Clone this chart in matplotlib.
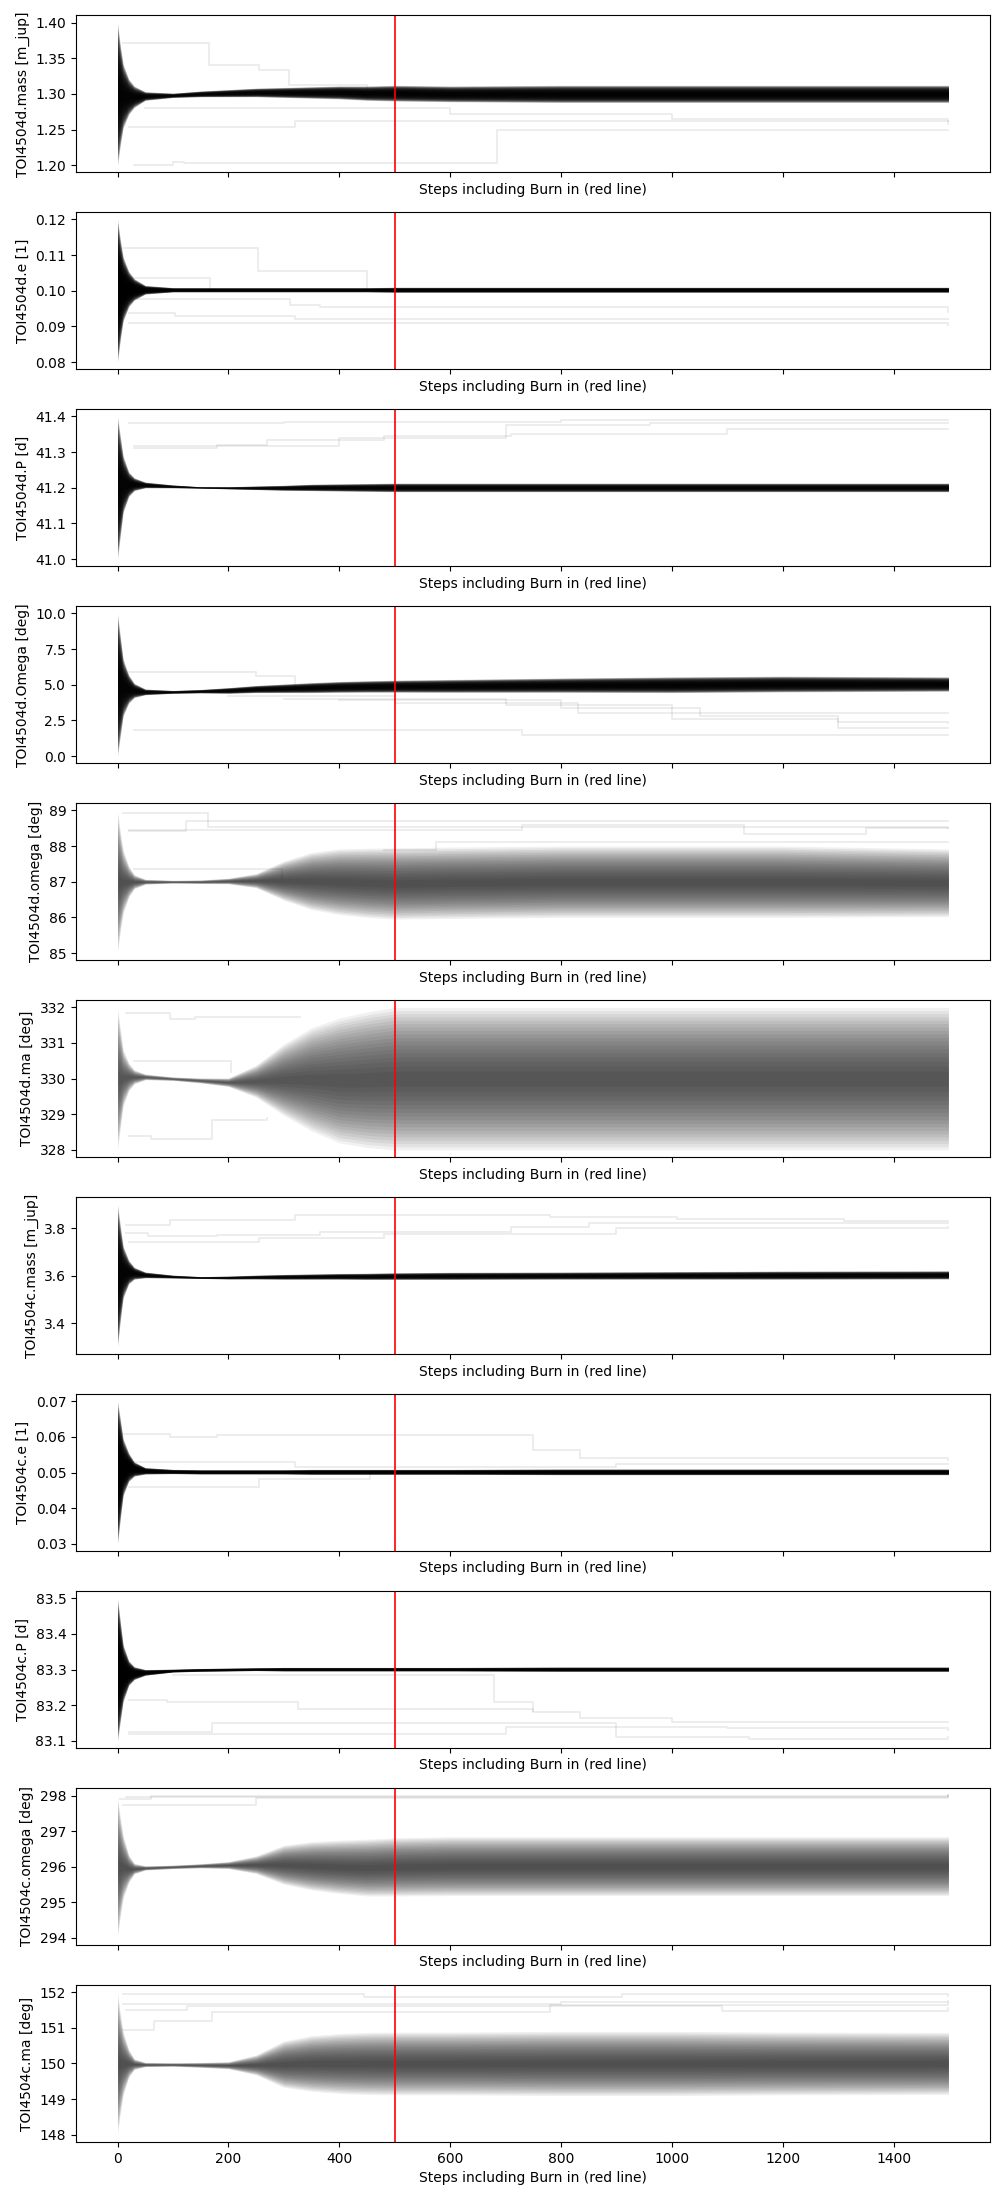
import numpy as np
import matplotlib.pyplot as plt

steps = [0, 5, 10, 20, 30, 50, 100, 150, 200, 250, 300, 350, 400, 450, 500, 600, 800, 1000, 1200, 1499]
burn_in = 500

labels = [
    "TOI4504d.mass [m_jup]", "TOI4504d.e [1]", "TOI4504d.P [d]",
    "TOI4504d.Omega [deg]", "TOI4504d.omega [deg]", "TOI4504d.ma [deg]",
    "TOI4504c.mass [m_jup]", "TOI4504c.e [1]", "TOI4504c.P [d]",
    "TOI4504c.omega [deg]", "TOI4504c.ma [deg]",
]

# centre of the walker cloud and its half width, per parameter
mass_d_center = [1.300, 1.298, 1.297, 1.296, 1.296, 1.297, 1.298, 1.300, 1.301, 1.302,
                 1.302, 1.302, 1.302, 1.301, 1.301, 1.300, 1.300, 1.300, 1.300, 1.300]
mass_d_hw = [0.100, 0.070, 0.045, 0.025, 0.015, 0.006, 0.003, 0.004, 0.005, 0.006,
             0.007, 0.008, 0.009, 0.010, 0.011, 0.011, 0.012, 0.012, 0.012, 0.012]

e_d_center = [0.100, 0.1003, 0.1005, 0.1005, 0.1004, 0.1003, 0.1003, 0.1003, 0.1003, 0.1003,
              0.1003, 0.1003, 0.1003, 0.1003, 0.1003, 0.1003, 0.1003, 0.1003, 0.1003, 0.1003]
e_d_hw = [0.020, 0.014, 0.009, 0.005, 0.003, 0.0012, 0.0006, 0.0006, 0.0006, 0.0006,
          0.0006, 0.0006, 0.0006, 0.0006, 0.0007, 0.0007, 0.0007, 0.0007, 0.0007, 0.0007]

P_d_center = [41.200, 41.205, 41.210, 41.210, 41.210, 41.208, 41.204, 41.201, 41.200, 41.200,
              41.200, 41.201, 41.201, 41.201, 41.201, 41.201, 41.201, 41.201, 41.201, 41.201]
P_d_hw = [0.20, 0.14, 0.08, 0.035, 0.018, 0.008, 0.004, 0.002, 0.003, 0.005,
          0.007, 0.009, 0.010, 0.011, 0.012, 0.012, 0.012, 0.012, 0.012, 0.012]

Omega_d_center = [5.0, 4.9, 4.8, 4.7, 4.6, 4.5, 4.5, 4.55, 4.6, 4.7,
                  4.75, 4.8, 4.85, 4.88, 4.9, 4.92, 4.97, 5.0, 5.05, 5.05]
Omega_d_hw = [5.0, 3.5, 2.0, 1.0, 0.5, 0.2, 0.1, 0.12, 0.2, 0.25,
              0.3, 0.35, 0.38, 0.4, 0.42, 0.45, 0.5, 0.55, 0.55, 0.5]

omega_d_center = [87.0, 87.0, 87.0, 87.0, 87.0, 87.0, 87.0, 87.0, 87.02, 87.03,
                  87.03, 87.02, 87.0, 86.97, 86.95, 86.97, 87.0, 87.0, 87.0, 86.97]
omega_d_hw = [2.0, 1.4, 0.9, 0.45, 0.2, 0.07, 0.04, 0.05, 0.08, 0.2,
              0.55, 0.8, 0.92, 0.97, 1.0, 1.0, 1.0, 1.0, 1.0, 0.95]

ma_d_center = [330.0, 330.0, 330.02, 330.05, 330.05, 330.05, 330.0, 329.95, 329.9, 329.93,
               329.97, 329.98, 329.95, 329.97, 330.0, 330.0, 330.0, 330.0, 330.0, 330.0]
ma_d_hw = [2.0, 1.4, 0.8, 0.4, 0.2, 0.08, 0.05, 0.07, 0.12, 0.45,
           1.0, 1.45, 1.75, 1.9, 2.0, 2.0, 2.0, 2.0, 2.0, 2.0]

mass_c_center = [3.600, 3.610, 3.615, 3.615, 3.610, 3.603, 3.596, 3.592, 3.592, 3.594,
                 3.595, 3.596, 3.597, 3.597, 3.598, 3.599, 3.600, 3.601, 3.602, 3.603]
mass_c_hw = [0.30, 0.20, 0.11, 0.05, 0.025, 0.012, 0.006, 0.004, 0.006, 0.008,
             0.010, 0.011, 0.012, 0.013, 0.014, 0.015, 0.015, 0.016, 0.017, 0.017]

e_c_center = [0.0500, 0.0510, 0.0515, 0.0515, 0.0510, 0.0505, 0.0503, 0.0502, 0.0502, 0.0502,
              0.0502, 0.0502, 0.0502, 0.0502, 0.0502, 0.0502, 0.0502, 0.0502, 0.0502, 0.0502]
e_c_hw = [0.020, 0.014, 0.008, 0.004, 0.002, 0.0009, 0.0006, 0.0006, 0.0006, 0.0006,
          0.0006, 0.0007, 0.0007, 0.0007, 0.0007, 0.0007, 0.0008, 0.0008, 0.0008, 0.0008]

P_c_center = [83.300, 83.295, 83.290, 83.290, 83.290, 83.292, 83.297, 83.299, 83.300, 83.301,
              83.301, 83.301, 83.301, 83.301, 83.301, 83.301, 83.301, 83.301, 83.301, 83.301]
P_c_hw = [0.20, 0.14, 0.08, 0.035, 0.018, 0.008, 0.004, 0.004, 0.004, 0.004,
          0.005, 0.005, 0.005, 0.005, 0.005, 0.005, 0.006, 0.006, 0.006, 0.006]

omega_c_center = [296.0, 296.0, 296.0, 295.95, 295.95, 295.97, 296.0, 296.03, 296.05, 296.06,
                  296.06, 296.03, 296.0, 295.98, 296.0, 296.02, 296.02, 296.02, 296.02, 296.02]
omega_c_hw = [2.0, 1.4, 0.9, 0.4, 0.15, 0.06, 0.05, 0.06, 0.1, 0.25,
              0.55, 0.68, 0.75, 0.8, 0.82, 0.83, 0.83, 0.83, 0.83, 0.83]

ma_c_center = [150.0, 150.0, 150.0, 150.0, 149.98, 149.97, 149.97, 149.96, 149.95, 149.96,
               149.98, 150.0, 150.0, 150.0, 150.0, 150.0, 150.0, 150.0, 150.0, 150.0]
ma_c_hw = [2.0, 1.4, 0.9, 0.4, 0.15, 0.06, 0.05, 0.07, 0.1, 0.28,
           0.65, 0.78, 0.84, 0.87, 0.88, 0.88, 0.9, 0.9, 0.88, 0.87]

# stuck walkers: (change steps, values) drawn as step lines
mass_d_walkers = [
    ([10, 165, 255, 310, 450], [1.372, 1.340, 1.333, 1.312, 1.305]),
    ([20, 320, 1499], [1.253, 1.262, 1.262]),
    ([30, 100, 120, 685, 1499], [1.200, 1.205, 1.203, 1.250, 1.250]),
    ([50, 600, 1000, 1499], [1.280, 1.272, 1.265, 1.258]),
]
e_d_walkers = [
    ([10, 253, 450], [0.112, 0.1055, 0.1005]),
    ([15, 167], [0.1035, 0.1003]),
    ([30, 312, 365, 1499], [0.0976, 0.0960, 0.0955, 0.0940]),
    ([20, 103, 320, 1499], [0.0938, 0.0930, 0.0921, 0.0920]),
    ([20, 1499], [0.0910, 0.0905]),
]
P_d_walkers = [
    ([20, 300, 800, 1499], [41.383, 41.385, 41.390, 41.390]),
    ([30, 180, 270, 480, 710, 1100, 1499], [41.312, 41.320, 41.333, 41.345, 41.352, 41.365, 41.365]),
    ([30, 400, 700, 960, 1499], [41.318, 41.340, 41.375, 41.383, 41.383]),
]
Omega_d_walkers = [
    ([20, 250, 320], [5.9, 5.6, 4.8]),
    ([200, 500, 830, 1499], [4.2, 3.7, 3.0, 3.0]),
    ([30, 730, 1499], [1.85, 1.5, 1.5]),
    ([300, 700, 1000, 1300, 1499], [4.0, 3.6, 2.6, 2.0, 2.0]),
    ([400, 800, 1050, 1300, 1499], [3.9, 3.4, 2.8, 2.4, 2.3]),
]
omega_d_walkers = [
    ([10, 163, 1499], [88.93, 88.52, 88.50]),
    ([20, 123, 1499], [88.42, 88.70, 88.70]),
    ([20, 730, 1130, 1350, 1499], [88.45, 88.60, 88.35, 88.50, 88.50]),
    ([30, 296], [87.35, 87.10]),
    ([480, 575, 1499], [87.90, 88.10, 88.10]),
]
ma_d_walkers = [
    ([15, 95, 140, 330], [331.83, 331.68, 331.73, 331.73]),
    ([30, 205], [330.50, 330.20]),
    ([20, 60, 170, 270], [328.40, 328.30, 328.85, 328.90]),
]
mass_c_walkers = [
    ([15, 95, 320, 780, 1010, 1310, 1499], [3.814, 3.835, 3.855, 3.845, 3.838, 3.830, 3.830]),
    ([15, 55, 180, 365, 710, 850, 1499], [3.780, 3.765, 3.770, 3.785, 3.805, 3.820, 3.820]),
    ([20, 255, 480, 900, 1499], [3.740, 3.760, 3.775, 3.800, 3.805]),
]
e_c_walkers = [
    ([10, 95, 180, 685, 750, 835, 1499], [0.0607, 0.0600, 0.0605, 0.0605, 0.0562, 0.0540, 0.0535]),
    ([20, 320, 900, 1499], [0.0530, 0.0515, 0.0525, 0.0525]),
    ([20, 255, 455], [0.0460, 0.0483, 0.0502]),
]
P_c_walkers = [
    ([20, 90, 325, 750], [83.215, 83.210, 83.190, 83.185]),
    ([100, 680, 750, 835, 1000, 1499], [83.285, 83.210, 83.180, 83.165, 83.152, 83.152]),
    ([20, 170, 900, 1140, 1499], [83.125, 83.150, 83.110, 83.105, 83.110]),
    ([20, 700, 1100, 1499], [83.120, 83.140, 83.135, 83.130]),
]
omega_c_walkers = [
    ([5, 60, 1499], [297.90, 298.00, 298.00]),
    ([10, 250, 1499], [297.75, 297.95, 298.02]),
    ([15, 1499], [297.98, 298.02]),
]
ma_c_walkers = [
    ([10, 445, 910, 1499], [151.95, 151.86, 151.95, 151.90]),
    ([10, 800, 1499], [151.68, 151.72, 151.75]),
    ([15, 125, 1090, 1499], [151.50, 151.60, 151.48, 151.55]),
    ([10, 65, 170, 780, 1499], [150.93, 151.20, 151.45, 151.65, 151.70]),
]

centers = [mass_d_center, e_d_center, P_d_center, Omega_d_center, omega_d_center, ma_d_center,
           mass_c_center, e_c_center, P_c_center, omega_c_center, ma_c_center]
halfwidths = [mass_d_hw, e_d_hw, P_d_hw, Omega_d_hw, omega_d_hw, ma_d_hw,
              mass_c_hw, e_c_hw, P_c_hw, omega_c_hw, ma_c_hw]
walkers = [mass_d_walkers, e_d_walkers, P_d_walkers, Omega_d_walkers, omega_d_walkers, ma_d_walkers,
           mass_c_walkers, e_c_walkers, P_c_walkers, omega_c_walkers, ma_c_walkers]

# opacity of each nested layer (narrow clouds look solid black)
band_alpha = [0.2, 0.25, 0.2, 0.2, 0.058, 0.055, 0.2, 0.25, 0.25, 0.058, 0.058]
layers = np.linspace(1.0, 0.06, 18) ** 0.8

fig, axes = plt.subplots(len(labels), 1, figsize=(10, 22), sharex=True)
fig.subplots_adjust(left=0.076, right=0.99, top=0.993, bottom=0.0264, hspace=0.255)

x = np.array(steps)
for i, ax in enumerate(axes):
    c = np.array(centers[i])
    hw = np.array(halfwidths[i])
    for f in layers:
        ax.fill_between(x, c - hw * f, c + hw * f, color="k", alpha=band_alpha[i], lw=0)
    for ws, wv in walkers[i]:
        ax.plot(ws, wv, color="k", alpha=0.08, lw=1.3, drawstyle="steps-post")
    ax.axvline(burn_in, color="r", lw=1.2)
    ax.set_ylabel(labels[i])
    ax.set_xlabel("Steps including Burn in (red line)")

plt.savefig("out.png", dpi=100)
